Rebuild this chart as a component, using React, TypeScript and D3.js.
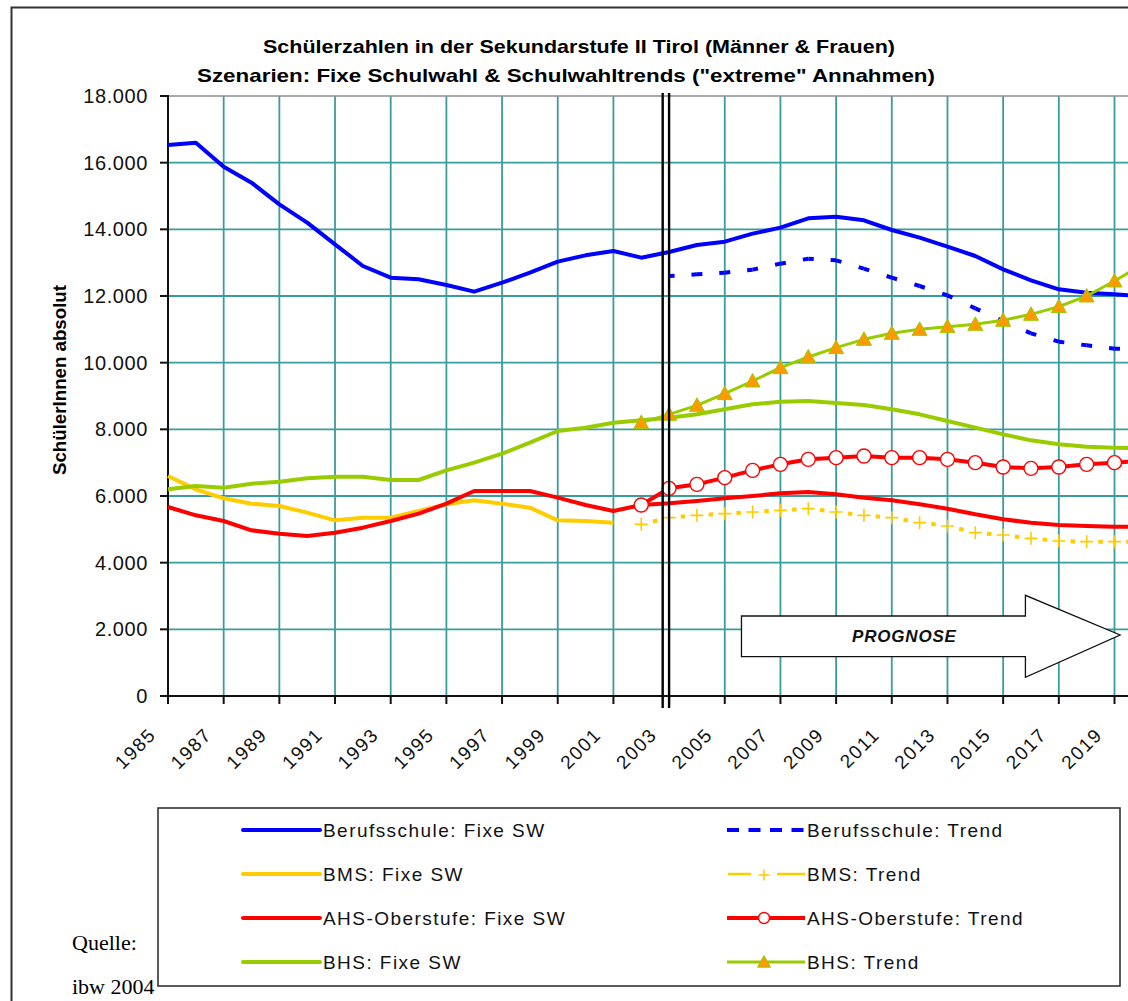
import React from 'react';
import * as d3 from 'd3';

const W = 1128;
const H = 1001;

// ---- data ----
const yearsAll = [1985, 1986, 1987, 1988, 1989, 1990, 1991, 1992, 1993, 1994, 1995, 1996, 1997, 1998, 1999, 2000, 2001, 2002, 2003, 2004, 2005, 2006, 2007, 2008, 2009, 2010, 2011, 2012, 2013, 2014, 2015, 2016, 2017, 2018, 2019, 2020];
const yearsHist = [1985, 1986, 1987, 1988, 1989, 1990, 1991, 1992, 1993, 1994, 1995, 1996, 1997, 1998, 1999, 2000, 2001];
const yearsTrend = [2002, 2003, 2004, 2005, 2006, 2007, 2008, 2009, 2010, 2011, 2012, 2013, 2014, 2015, 2016, 2017, 2018, 2019, 2020];
const yearsTrendBeruf = [2003, 2004, 2005, 2006, 2007, 2008, 2009, 2010, 2011, 2012, 2013, 2014, 2015, 2016, 2017, 2018, 2019, 2020];

const berufFixe = [16530, 16600, 15880, 15400, 14750, 14200, 13550, 12900, 12550, 12500, 12330, 12130, 12400, 12700, 13030, 13220, 13350, 13150, 13320, 13530, 13630, 13870, 14050, 14330, 14380, 14270, 13980, 13750, 13480, 13200, 12800, 12470, 12200, 12100, 12050, 12000];
const berufTrend = [12600, 12650, 12700, 12790, 12970, 13120, 13070, 12820, 12550, 12300, 12020, 11630, 11250, 10880, 10630, 10520, 10420, 10400];
const bmsFixe = [6600, 6200, 5930, 5770, 5700, 5500, 5270, 5350, 5350, 5550, 5750, 5870, 5770, 5650, 5270, 5250, 5200];
const bmsTrend = [5150, 5350, 5420, 5470, 5520, 5570, 5620, 5520, 5420, 5350, 5200, 5100, 4900, 4830, 4730, 4650, 4630, 4630, 4630];
const ahsFixe = [5670, 5420, 5250, 4970, 4870, 4800, 4900, 5050, 5250, 5470, 5770, 6150, 6150, 6150, 5950, 5730, 5550, 5730, 5780, 5850, 5930, 6000, 6080, 6120, 6050, 5950, 5870, 5750, 5620, 5450, 5300, 5200, 5130, 5100, 5080, 5080];
const ahsTrend = [5730, 6230, 6350, 6550, 6770, 6950, 7100, 7150, 7200, 7150, 7150, 7100, 7000, 6870, 6830, 6870, 6950, 7000, 7050];
const bhsFixe = [6200, 6300, 6250, 6370, 6430, 6530, 6580, 6580, 6480, 6480, 6770, 7000, 7270, 7600, 7950, 8050, 8200, 8270, 8350, 8450, 8600, 8750, 8830, 8850, 8790, 8730, 8600, 8450, 8250, 8050, 7850, 7670, 7550, 7480, 7450, 7430];
const bhsTrend = [8200, 8450, 8720, 9070, 9450, 9850, 10170, 10450, 10700, 10880, 11000, 11080, 11150, 11270, 11450, 11680, 12000, 12450, 12950];

const yTickValues = [0, 2000, 4000, 6000, 8000, 10000, 12000, 14000, 16000, 18000];
const xTickYears = [1985, 1987, 1989, 1991, 1993, 1995, 1997, 1999, 2001, 2003, 2005, 2007, 2009, 2011, 2013, 2015, 2017, 2019];
const gridYears = [1987, 1989, 1991, 1993, 1995, 1997, 1999, 2001, 2003, 2005, 2007, 2009, 2011, 2013, 2015, 2017, 2019, 2021];

const titleLines = [
  'Schülerzahlen in der Sekundarstufe II  Tirol (Männer & Frauen)',
  'Szenarien: Fixe Schulwahl & Schulwahltrends ("extreme" Annahmen)',
];
const yTitle = 'SchülerInnen absolut';
const legendLeft = ['Berufsschule: Fixe SW', 'BMS: Fixe SW', 'AHS-Oberstufe: Fixe SW', 'BHS: Fixe SW'];
const legendRight = ['Berufsschule: Trend', 'BMS: Trend', 'AHS-Oberstufe: Trend', 'BHS: Trend'];

const BLUE = '#0000ff';
const YELLOW = '#ffcc00';
const RED = '#ff0000';
const GREEN = '#99cc00';
const ORANGE = '#ff9900';
const GRID = '#3a9d9d';

const SANS = '"Liberation Sans", Arial, Helvetica, sans-serif';
const SERIF = '"Liberation Serif", "Times New Roman", serif';

const x = d3.scaleLinear().domain([1985, 2019]).range([168, 1114.5]);
const y = d3.scaleLinear().domain([0, 18000]).range([696, 96]);
const fmt = d3.formatLocale({ decimal: ',', thousands: '.', grouping: [3], currency: ['', '€'] }).format(',');

type P = [number, number];
const pts = (ys: number[], vs: number[]): P[] => ys.map((yr, i) => [x(yr), y(vs[i])]);
const line = d3.line<P>().x(d => d[0]).y(d => d[1]);

function endDashSegments(p: P[], h: number, color: string, w: number, key: string) {
  const out: any[] = [];
  for (let i = 0; i < p.length - 1; i++) {
    const [x0, y0] = p[i];
    const [x1, y1] = p[i + 1];
    const L = Math.hypot(x1 - x0, y1 - y0);
    out.push(
      <path key={key + i} d={`M${x0},${y0}L${x1},${y1}`} fill="none" stroke={color} strokeWidth={w}
        strokeDasharray={`${h} ${L - 2 * h} ${h} 2000`} />
    );
  }
  return out;
}

function midDashSegments(p: P[], d: number, color: string, w: number, key: string) {
  const out: any[] = [];
  for (let i = 0; i < p.length - 1; i++) {
    const [x0, y0] = p[i];
    const [x1, y1] = p[i + 1];
    const L = Math.hypot(x1 - x0, y1 - y0);
    out.push(
      <path key={key + i} d={`M${x0},${y0}L${x1},${y1}`} fill="none" stroke={color} strokeWidth={w}
        strokeDasharray={`0 ${(L - d) / 2} ${d} 2000`} />
    );
  }
  return out;
}

const Plus = ({ cx, cy, s = 6.5 }: { cx: number; cy: number; s?: number }) => (
  <path d={`M${cx - s},${cy}H${cx + s}M${cx},${cy - s}V${cy + s}`} stroke={YELLOW} strokeWidth={1.6} fill="none" />
);
const Circle = ({ cx, cy, r = 7 }: { cx: number; cy: number; r?: number }) => (
  <circle cx={cx} cy={cy} r={r} fill="#fff" stroke={RED} strokeWidth={1.4} />
);
const Tri = ({ cx, cy, s = 7.5 }: { cx: number; cy: number; s?: number }) => (
  <path d={`M${cx},${cy - s}L${cx + s},${cy + s * 0.8}L${cx - s},${cy + s * 0.8}Z`} fill={ORANGE} stroke={GREEN} strokeWidth={1} />
);

export default function App() {
  const plotLeft = x(1985);
  const plotTop = y(18000);
  const plotBottom = y(0);

  const pBerufFixe = pts(yearsAll, berufFixe);
  const pBerufTrend = pts(yearsTrendBeruf, berufTrend);
  const pBmsFixe = pts(yearsHist, bmsFixe);
  const pBmsTrend = pts(yearsTrend, bmsTrend);
  const pAhsFixe = pts(yearsAll, ahsFixe);
  const pAhsTrend = pts(yearsTrend, ahsTrend);
  const pBhsFixe = pts(yearsAll, bhsFixe);
  const pBhsTrend = pts(yearsTrend, bhsTrend);

  // arrow annotation (in data units)
  const aL = x(2005.6), aB = x(2015.8), aT = x(2019.2);
  const bodyTop = y(2400), bodyBot = y(1180), headTop = y(3020), headBot = y(560), tipY = y(1830);
  const arrow = `M${aL},${bodyTop}H${aB}V${headTop}L${aT},${tipY}L${aB},${headBot}V${bodyBot}H${aL}Z`;

  const legendRows = [830, 874, 918, 962];

  return (
    <svg width={W} height={H} viewBox={`0 0 ${W} ${H}`}
      style={{ position: 'absolute', left: 0, top: 0, display: 'block', background: '#fff' }}>
      <rect x={0} y={0} width={W} height={H} fill="#fff" />
      {/* outer frame */}
      <path d={`M11.5,${H + 5}V7.5H${W + 5}`} fill="none" stroke="#333" strokeWidth={2} />

      {/* title */}
      <text x={579} y={53} textAnchor="middle" fontFamily={SANS} fontWeight="bold" fontSize={19}
        textLength={632} lengthAdjust="spacingAndGlyphs">{titleLines[0]}</text>
      <text x={566} y={82} textAnchor="middle" fontFamily={SANS} fontWeight="bold" fontSize={19}
        textLength={738} lengthAdjust="spacingAndGlyphs">{titleLines[1]}</text>

      {/* y title */}
      <text transform={`translate(66,380) rotate(-90)`} textAnchor="middle" fontFamily={SANS} fontWeight="bold"
        fontSize={19} textLength={190} lengthAdjust="spacingAndGlyphs">{yTitle}</text>

      {/* gridlines */}
      {yTickValues.filter(v => v > 0 && v < 18000).map(v => (
        <line key={'gy' + v} x1={plotLeft} x2={W + 40} y1={y(v)} y2={y(v)} stroke={GRID} strokeWidth={1.8} />
      ))}
      {gridYears.map(yr => (
        <line key={'gx' + yr} x1={x(yr)} x2={x(yr)} y1={plotTop} y2={plotBottom} stroke={GRID} strokeWidth={1.8} />
      ))}
      <line x1={plotLeft} x2={W + 40} y1={plotTop} y2={plotTop} stroke="#8c8c8c" strokeWidth={1.6} />

      {/* axes */}
      <line x1={plotLeft} x2={plotLeft} y1={plotTop - 1} y2={plotBottom + 1} stroke="#111" strokeWidth={2} />
      <line x1={plotLeft - 8} x2={W + 40} y1={plotBottom} y2={plotBottom} stroke="#111" strokeWidth={2} />
      {yTickValues.map(v => (
        <g key={'yt' + v}>
          <line x1={plotLeft - 8} x2={plotLeft} y1={y(v)} y2={y(v)} stroke="#111" strokeWidth={2} />
          <text x={148} y={y(v) + 7} textAnchor="end" fontFamily={SANS} fontSize={20} letterSpacing={0.6}
            fill="#111">{fmt(v)}</text>
        </g>
      ))}
      {xTickYears.map(yr => (
        <g key={'xt' + yr}>
          <line x1={x(yr)} x2={x(yr)} y1={plotBottom} y2={plotBottom + 8} stroke="#111" strokeWidth={2} />
          <text transform={`translate(${x(yr) - 11},${plotBottom + 40}) rotate(-45)`} textAnchor="end"
            fontFamily={SANS} fontSize={19} letterSpacing={1.5} fill="#111">{yr}</text>
        </g>
      ))}

      {/* arrow */}
      <path d={arrow} fill="#fff" stroke="#111" strokeWidth={1.3} />
      <text x={(aL + aB) / 2 + 21} y={tipY + 7} textAnchor="middle" fontFamily={SANS} fontWeight="bold"
        fontStyle="italic" fontSize={17} letterSpacing={0.8} fill="#111">PROGNOSE</text>

      {/* series */}
      <path d={line(pBerufFixe) || ''} fill="none" stroke={BLUE} strokeWidth={4} strokeLinejoin="round" />
      {endDashSegments(pBerufTrend, 5.5, BLUE, 4, 'bt')}
      <path d={line(pBmsFixe) || ''} fill="none" stroke={YELLOW} strokeWidth={4} strokeLinejoin="round" />
      {midDashSegments(pBmsTrend, 4.5, YELLOW, 4, 'mt')}
      {pBmsTrend.map((p, i) => <Plus key={'pl' + i} cx={p[0]} cy={p[1]} />)}
      <path d={line(pAhsFixe) || ''} fill="none" stroke={RED} strokeWidth={4} strokeLinejoin="round" />
      <path d={line(pAhsTrend) || ''} fill="none" stroke={RED} strokeWidth={4} strokeLinejoin="round" />
      {pAhsTrend.map((p, i) => <Circle key={'c' + i} cx={p[0]} cy={p[1]} />)}
      <path d={line(pBhsFixe) || ''} fill="none" stroke={GREEN} strokeWidth={4} strokeLinejoin="round" />
      <path d={line(pBhsTrend) || ''} fill="none" stroke={GREEN} strokeWidth={3} strokeLinejoin="round" />
      {pBhsTrend.map((p, i) => <Tri key={'t' + i} cx={p[0]} cy={p[1]} />)}

      {/* forecast boundary double line */}
      <line x1={x(2002.77)} x2={x(2002.77)} y1={plotTop - 3} y2={plotBottom + 12} stroke="#000" strokeWidth={2.4} />
      <line x1={x(2003)} x2={x(2003)} y1={plotTop - 3} y2={plotBottom + 12} stroke="#000" strokeWidth={2.4} />

      {/* legend */}
      <rect x={158} y={808} width={962} height={178} fill="#fff" stroke="#333" strokeWidth={1.6} />
      {legendLeft.map((t, i) => {
        const c = [BLUE, YELLOW, RED, GREEN][i];
        const ly = legendRows[i];
        return (
          <g key={'ll' + i}>
            <line x1={243} x2={320} y1={ly} y2={ly} stroke={c} strokeWidth={4} strokeLinecap="round" />
            <text x={323} y={ly + 7} fontFamily={SANS} fontSize={19} letterSpacing={1.45} fill="#111">{t}</text>
          </g>
        );
      })}
      {legendRight.map((t, i) => {
        const ly = legendRows[i];
        const mx = 766;
        let sample: any = null;
        if (i === 0) {
          sample = <line x1={727} x2={805} y1={ly} y2={ly} stroke={BLUE} strokeWidth={4} strokeDasharray="12 9.5" />;
        } else if (i === 1) {
          sample = (
            <g>
              <line x1={728} x2={751} y1={ly} y2={ly} stroke={YELLOW} strokeWidth={2.5} />
              <line x1={777} x2={805} y1={ly} y2={ly} stroke={YELLOW} strokeWidth={2.5} />
              <Plus cx={mx - 2} cy={ly + 1} s={5.5} />
            </g>
          );
        } else if (i === 2) {
          sample = (
            <g>
              <line x1={727} x2={805} y1={ly} y2={ly} stroke={RED} strokeWidth={4} />
              <Circle cx={mx - 2} cy={ly} r={5.5} />
            </g>
          );
        } else {
          sample = (
            <g>
              <line x1={727} x2={805} y1={ly} y2={ly} stroke={GREEN} strokeWidth={3} />
              <Tri cx={mx - 2} cy={ly} s={6.5} />
            </g>
          );
        }
        return (
          <g key={'lr' + i}>
            {sample}
            <text x={807} y={ly + 7} fontFamily={SANS} fontSize={19} letterSpacing={1.45} fill="#111">{t}</text>
          </g>
        );
      })}

      {/* source */}
      <text x={72} y={950} fontFamily={SERIF} fontSize={22} fill="#000">Quelle:</text>
      <text x={72} y={994} fontFamily={SERIF} fontSize={22} fill="#000">ibw 2004</text>
    </svg>
  );
}
